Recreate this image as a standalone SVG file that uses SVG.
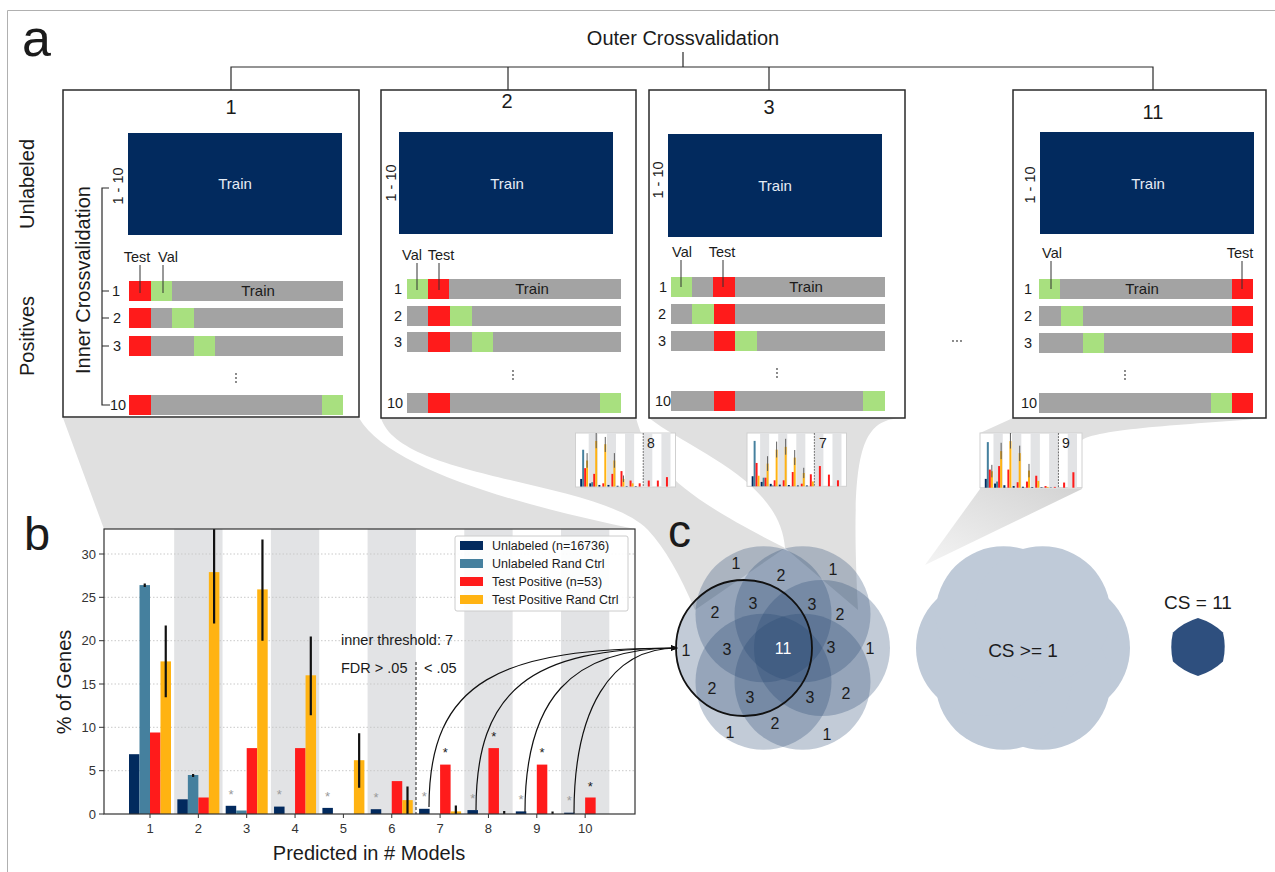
<svg xmlns="http://www.w3.org/2000/svg" width="1275" height="872" viewBox="0 0 1275 872">
<defs>
<style>
text{font-family:"Liberation Sans",Arial,Helvetica,sans-serif;fill:#1b1b1b}
.nv{fill:#022a5e}.tl{fill:#45809e}.rd{fill:#ff1b1b}.or{fill:#ffb312}.gn{fill:#a8e07f}.gy{fill:#a3a3a3}
.band{fill:#e2e3e5}
.fun{fill:#e0e0e0}
.box{fill:#fff;stroke:#2a2a2a;stroke-width:1.5}
.trn{fill:#022a5e}
.wt{fill:#e6ecf5;font-size:15px;text-anchor:middle}
.lbl{font-size:14.5px;text-anchor:middle}
.ttl{font-size:20px;text-anchor:middle}
.ln{stroke:#2a2a2a;stroke-width:1.2;fill:none}
.lead{stroke:#333;stroke-width:1}
.err{stroke:#111;stroke-width:2.2}
.terr{stroke:#555;stroke-width:5}
.tdash{stroke:#444;stroke-width:4;stroke-dasharray:10 6}
.grid{stroke:#c9c9c9;stroke-width:1;stroke-dasharray:1.5 2}
.vc{fill:#23436f;fill-opacity:.28}
.blob{fill:#bfcad8}
.vt{font-size:16px;text-anchor:middle}
.ast{font-size:13px;text-anchor:middle}
.tick{font-size:13px;fill:#333}
.dot{fill:#555}
.conn{fill:none;stroke:#111;stroke-width:1.2}
</style>
<g id="bands">
<rect class="band" x="174.18" y="529" width="48.35" height="285"/>
<rect class="band" x="270.88" y="529" width="48.35" height="285"/>
<rect class="band" x="367.58" y="529" width="48.35" height="285"/>
<rect class="band" x="464.28" y="529" width="48.35" height="285"/>
<rect class="band" x="560.98" y="529" width="48.35" height="285"/>
</g>
<marker id="ah" viewBox="0 0 10 10" refX="9" refY="5" markerWidth="6" markerHeight="6" orient="auto"><path d="M0,1L10,5L0,9z" fill="#111"/></marker>
<linearGradient id="fade" x1="1" y1="0" x2="0" y2="1"><stop offset="0" stop-color="#d3d3d3"/><stop offset="1" stop-color="#f4f4f4"/></linearGradient>
</defs>
<rect width="1275" height="872" fill="#fff"/>
<path d="M7.5,872V10.5H1275" fill="none" stroke="#b0b0b0" stroke-width="1"/>

<g id="funnels">
<path class="fun" d="M63,418L359,418C390,470 520,505 635,529L104,529Z"/>
<path class="fun" d="M381,418L636,418C650,470 690,500 785,548L695,610C680,575 665,548 648,530C600,480 400,480 381,418Z"/>
<path class="fun" d="M649,418L905,418C860,418 850,450 858,610L785,548C780,480 690,450 649,418Z"/>
<path class="fun" d="M1013,418L1266,418C1200,424 1100,428 1082,440L1082,489L980,489L980,433Z"/>
<path fill="url(#fade)" d="M980,489L1082,489L925,565Z"/>
</g>

<text x="22" y="56" font-size="52">a</text>
<text x="683" y="45" font-size="20" text-anchor="middle">Outer Crossvalidation</text>
<g id="outer-bracket">
<path class="ln" d="M683,52V67M231,90V67H1153V90M508,67V90M769,67V90"/>
</g>
<text transform="translate(34,184) rotate(-90)" font-size="20" text-anchor="middle">Unlabeled</text>
<text transform="translate(34,336) rotate(-90)" font-size="20" text-anchor="middle">Positives</text>

<g id="fold1">
<rect class="box" x="63" y="90" width="296" height="327"/>
<text class="ttl" x="231" y="114">1</text>
<rect class="trn" x="128" y="133" width="214" height="102"/>
<text class="wt" x="235" y="189">Train</text>
<text transform="translate(123,186) rotate(-90)" font-size="14.5" text-anchor="middle">1 - 10</text>
<path class="ln" d="M109,188H102V405H110M102,291H109M102,318H109M102,346H109"/>
<text transform="translate(90,280) rotate(-90)" font-size="20" text-anchor="middle">Inner Crossvalidation</text>
<rect class="gy" x="129" y="281" width="214" height="20"/>
<rect class="rd" x="129" y="281" width="22" height="20"/>
<rect class="gn" x="151" y="281" width="21" height="20"/>
<rect class="gy" x="129" y="308" width="214" height="20"/>
<rect class="rd" x="129" y="308" width="22" height="20"/>
<rect class="gn" x="172" y="308" width="22" height="20"/>
<rect class="gy" x="129" y="336" width="214" height="20"/>
<rect class="rd" x="129" y="336" width="22" height="20"/>
<rect class="gn" x="194" y="336" width="21" height="20"/>
<rect class="gy" x="129" y="395" width="214" height="20"/>
<rect class="rd" x="129" y="395" width="22" height="20"/>
<rect class="gn" x="322" y="395" width="21" height="20"/>
<text x="258" y="296" font-size="15" text-anchor="middle">Train</text>
<text class="lbl" x="137" y="262">Test</text>
<text class="lbl" x="168" y="262">Val</text>
<path class="lead" d="M140,265V293M163,265V293"/>
<text class="lbl" x="116" y="296">1</text>
<text class="lbl" x="117" y="323">2</text>
<text class="lbl" x="117" y="351">3</text>
<text class="lbl" x="118" y="410">10</text>
<circle class="dot" cx="236" cy="374" r="0.9"/><circle class="dot" cx="236" cy="378" r="0.9"/><circle class="dot" cx="236" cy="382" r="0.9"/>
</g>

<g id="fold2">
<rect class="box" x="381" y="90" width="255" height="328"/>
<text class="ttl" x="507" y="108">2</text>
<rect class="trn" x="399" y="132" width="214" height="102"/>
<text class="wt" x="507" y="189">Train</text>
<text transform="translate(396,183) rotate(-90)" font-size="14.5" text-anchor="middle">1 - 10</text>
<rect class="gy" x="407" y="279" width="214" height="20"/>
<rect class="gn" x="407" y="279" width="21" height="20"/>
<rect class="rd" x="428" y="279" width="21" height="20"/>
<rect class="gy" x="407" y="306" width="214" height="20"/>
<rect class="rd" x="428" y="306" width="22" height="20"/>
<rect class="gn" x="450" y="306" width="22" height="20"/>
<rect class="gy" x="407" y="332" width="214" height="20"/>
<rect class="rd" x="428" y="332" width="22" height="20"/>
<rect class="gn" x="472" y="332" width="21" height="20"/>
<rect class="gy" x="407" y="393" width="214" height="20"/>
<rect class="rd" x="428" y="393" width="22" height="20"/>
<rect class="gn" x="600" y="393" width="21" height="20"/>
<text x="532" y="294" font-size="15" text-anchor="middle">Train</text>
<text class="lbl" x="412" y="260">Val</text>
<text class="lbl" x="441" y="260">Test</text>
<path class="lead" d="M417,263V290M439,263V290"/>
<text class="lbl" x="398" y="294">1</text>
<text class="lbl" x="398" y="321">2</text>
<text class="lbl" x="398" y="347">3</text>
<text class="lbl" x="395" y="408">10</text>
<circle class="dot" cx="513" cy="371" r="0.9"/><circle class="dot" cx="513" cy="375" r="0.9"/><circle class="dot" cx="513" cy="379" r="0.9"/>
</g>

<g id="fold3">
<rect class="box" x="649" y="90" width="256" height="328"/>
<text class="ttl" x="769" y="114">3</text>
<rect class="trn" x="668" y="134" width="214" height="103"/>
<text class="wt" x="775" y="191">Train</text>
<text transform="translate(663,180) rotate(-90)" font-size="14.5" text-anchor="middle">1 - 10</text>
<rect class="gy" x="671" y="277" width="214" height="20"/>
<rect class="gn" x="671" y="277" width="21" height="20"/>
<rect class="rd" x="713" y="277" width="22" height="20"/>
<rect class="gy" x="671" y="304" width="214" height="20"/>
<rect class="gn" x="692" y="304" width="22" height="20"/>
<rect class="rd" x="714" y="304" width="21" height="20"/>
<rect class="gy" x="671" y="331" width="214" height="20"/>
<rect class="rd" x="714" y="331" width="21" height="20"/>
<rect class="gn" x="735" y="331" width="22" height="20"/>
<rect class="gy" x="671" y="391" width="214" height="20"/>
<rect class="rd" x="714" y="391" width="21" height="20"/>
<rect class="gn" x="863" y="391" width="22" height="20"/>
<text x="806" y="292" font-size="15" text-anchor="middle">Train</text>
<text class="lbl" x="682" y="257">Val</text>
<text class="lbl" x="722" y="257">Test</text>
<path class="lead" d="M681,260V287M723,260V287"/>
<text class="lbl" x="663" y="292">1</text>
<text class="lbl" x="662" y="319">2</text>
<text class="lbl" x="662" y="346">3</text>
<text class="lbl" x="663" y="406">10</text>
<circle class="dot" cx="777" cy="369" r="0.9"/><circle class="dot" cx="777" cy="373" r="0.9"/><circle class="dot" cx="777" cy="377" r="0.9"/>
</g>

<g id="ellipsis">
<circle class="dot" cx="953" cy="341" r="0.9"/><circle class="dot" cx="957" cy="341" r="0.9"/><circle class="dot" cx="961" cy="341" r="0.9"/>
</g>

<g id="fold11">
<rect class="box" x="1013" y="90" width="253" height="328"/>
<text class="ttl" x="1153" y="119">11</text>
<rect class="trn" x="1040" y="132" width="214" height="102"/>
<text class="wt" x="1148" y="189">Train</text>
<text transform="translate(1035,185) rotate(-90)" font-size="14.5" text-anchor="middle">1 - 10</text>
<rect class="gy" x="1039" y="279" width="214" height="20"/>
<rect class="gn" x="1039" y="279" width="21" height="20"/>
<rect class="rd" x="1232" y="279" width="21" height="20"/>
<rect class="gy" x="1039" y="306" width="214" height="20"/>
<rect class="gn" x="1061" y="306" width="22" height="20"/>
<rect class="rd" x="1232" y="306" width="21" height="20"/>
<rect class="gy" x="1039" y="333" width="214" height="20"/>
<rect class="gn" x="1083" y="333" width="21" height="20"/>
<rect class="rd" x="1232" y="333" width="21" height="20"/>
<rect class="gy" x="1039" y="393" width="214" height="20"/>
<rect class="gn" x="1211" y="393" width="21" height="20"/>
<rect class="rd" x="1232" y="393" width="21" height="20"/>
<text x="1142" y="294" font-size="15" text-anchor="middle">Train</text>
<text class="lbl" x="1052" y="258">Val</text>
<text class="lbl" x="1240" y="258">Test</text>
<path class="lead" d="M1051,261V289M1242,261V289"/>
<text class="lbl" x="1028" y="294">1</text>
<text class="lbl" x="1028" y="321">2</text>
<text class="lbl" x="1028" y="348">3</text>
<text class="lbl" x="1029" y="408">10</text>
<circle class="dot" cx="1125" cy="371" r="0.9"/><circle class="dot" cx="1125" cy="375" r="0.9"/><circle class="dot" cx="1125" cy="379" r="0.9"/>
</g>

<g id="thumb8">
<rect x="575.5" y="433" width="100" height="54" fill="#fff" stroke="#d0d0d0"/>
<g transform="translate(575.5,433) scale(0.188) translate(-104,-529)">
<use href="#bands"/>
<rect class="nv" x="129" y="773.3" width="10.5" height="40.7"/><rect class="nv" x="177.35" y="796.7" width="10.5" height="17.3"/><rect class="nv" x="225.7" y="805.3" width="10.5" height="8.7"/><rect class="nv" x="274.05" y="805.3" width="10.5" height="8.7"/><rect class="nv" x="322.4" y="809.7" width="10.5" height="4.3"/><rect class="nv" x="370.75" y="811.4" width="10.5" height="2.6"/><rect class="nv" x="419.1" y="811.4" width="10.5" height="2.6"/>
<rect class="tl" x="139.5" y="618.1" width="10.5" height="195.9"/><rect class="tl" x="187.85" y="790.6" width="10.5" height="23.4"/>
<rect class="rd" x="150" y="716" width="10.5" height="98"/><rect class="rd" x="198.35" y="746.4" width="10.5" height="67.6"/><rect class="rd" x="246.7" y="796.7" width="10.5" height="17.3"/><rect class="rd" x="295.05" y="746.4" width="10.5" height="67.6"/><rect class="rd" x="343.4" y="731.6" width="10.5" height="82.4"/><rect class="rd" x="391.75" y="781.9" width="10.5" height="32.1"/><rect class="rd" x="440.1" y="796.7" width="10.5" height="17.3"/><rect class="rd" x="488.45" y="781.9" width="10.5" height="32.1"/><rect class="rd" x="536.8" y="781.9" width="10.5" height="32.1"/><rect class="rd" x="585.15" y="763.7" width="10.5" height="50.3"/>
<rect class="or" x="160.5" y="675.3" width="10.5" height="138.7"/><rect class="or" x="208.85" y="571.2" width="10.5" height="242.8"/><rect class="or" x="257.2" y="588.6" width="10.5" height="225.4"/><rect class="or" x="305.55" y="675.3" width="10.5" height="138.7"/><rect class="or" x="353.9" y="773.3" width="10.5" height="40.7"/><rect class="or" x="402.25" y="796.7" width="10.5" height="17.3"/>
<path class="terr" d="M165.75,636V714M214.1,529V610M262.45,550V630M310.8,636V714M359.15,755V790"/>
<path class="tdash" d="M464.28,529V814"/>
</g>
<text x="651" y="448" font-size="14" text-anchor="middle">8</text>
</g>

<g id="thumb7">
<rect x="747" y="433" width="99.5" height="53.3" fill="#fff" stroke="#d0d0d0"/>
<g transform="translate(747,433) scale(0.187) translate(-104,-529)">
<use href="#bands"/>
<rect class="nv" x="129" y="760.2" width="10.5" height="53.8"/><rect class="nv" x="177.35" y="790.6" width="10.5" height="23.4"/><rect class="nv" x="225.7" y="801" width="10.5" height="13"/><rect class="nv" x="274.05" y="805.3" width="10.5" height="8.7"/><rect class="nv" x="322.4" y="807.1" width="10.5" height="6.9"/><rect class="nv" x="370.75" y="809.7" width="10.5" height="4.3"/><rect class="nv" x="419.1" y="809.7" width="10.5" height="4.3"/>
<rect class="tl" x="139.5" y="571.2" width="10.5" height="242.8"/><rect class="tl" x="187.85" y="768" width="10.5" height="46"/><rect class="tl" x="236.2" y="809.7" width="10.5" height="4.3"/>
<rect class="rd" x="150" y="689.2" width="10.5" height="124.8"/><rect class="rd" x="198.35" y="768" width="10.5" height="46"/><rect class="rd" x="246.7" y="781.9" width="10.5" height="32.1"/><rect class="rd" x="295.05" y="781.9" width="10.5" height="32.1"/><rect class="rd" x="343.4" y="737.7" width="10.5" height="76.3"/><rect class="rd" x="391.75" y="800.1" width="10.5" height="13.9"/><rect class="rd" x="440.1" y="749.8" width="10.5" height="64.2"/><rect class="rd" x="488.45" y="705.6" width="10.5" height="108.4"/><rect class="rd" x="536.8" y="751.6" width="10.5" height="62.4"/><rect class="rd" x="585.15" y="781.9" width="10.5" height="32.1"/>
<rect class="or" x="160.5" y="757.6" width="10.5" height="56.4"/><rect class="or" x="208.85" y="692.6" width="10.5" height="121.4"/><rect class="or" x="257.2" y="618.1" width="10.5" height="195.9"/><rect class="or" x="305.55" y="603.3" width="10.5" height="210.7"/><rect class="or" x="353.9" y="660.5" width="10.5" height="153.5"/><rect class="or" x="402.25" y="742.9" width="10.5" height="71.1"/><rect class="or" x="450.6" y="788" width="10.5" height="26"/>
<path class="terr" d="M214.1,653V732M262.45,575V660M310.8,560V645M359.15,620V700M407.5,715V770"/>
<path class="tdash" d="M464.28,529V814"/>
</g>
<text x="823" y="448" font-size="14" text-anchor="middle">7</text>
</g>

<g id="thumb9">
<rect x="980" y="433" width="102" height="54.7" fill="#fff" stroke="#d0d0d0"/>
<g transform="translate(980,433) scale(0.192) translate(-104,-529)">
<use href="#bands"/>
<rect class="nv" x="129" y="768" width="10.5" height="46"/><rect class="nv" x="177.35" y="792.3" width="10.5" height="21.7"/><rect class="nv" x="225.7" y="801" width="10.5" height="13"/><rect class="nv" x="274.05" y="805.3" width="10.5" height="8.7"/><rect class="nv" x="322.4" y="808.8" width="10.5" height="5.2"/><rect class="nv" x="370.75" y="810.5" width="10.5" height="3.5"/><rect class="nv" x="419.1" y="811.4" width="10.5" height="2.6"/><rect class="nv" x="467.45" y="812.3" width="10.5" height="1.7"/>
<rect class="tl" x="139.5" y="576.4" width="10.5" height="237.6"/><rect class="tl" x="187.85" y="781.9" width="10.5" height="32.1"/>
<rect class="rd" x="150" y="719.5" width="10.5" height="94.5"/><rect class="rd" x="198.35" y="701.3" width="10.5" height="112.7"/><rect class="rd" x="246.7" y="719.5" width="10.5" height="94.5"/><rect class="rd" x="295.05" y="785.4" width="10.5" height="28.6"/><rect class="rd" x="343.4" y="781.9" width="10.5" height="32.1"/><rect class="rd" x="391.75" y="751.6" width="10.5" height="62.4"/><rect class="rd" x="440.1" y="805.3" width="10.5" height="8.7"/><rect class="rd" x="488.45" y="809.7" width="10.5" height="4.3"/><rect class="rd" x="536.8" y="787.1" width="10.5" height="26.9"/><rect class="rd" x="585.15" y="733.4" width="10.5" height="80.6"/>
<rect class="or" x="160.5" y="728.2" width="10.5" height="85.8"/><rect class="or" x="208.85" y="623.3" width="10.5" height="190.7"/><rect class="or" x="257.2" y="571.2" width="10.5" height="242.8"/><rect class="or" x="305.55" y="633.7" width="10.5" height="180.3"/><rect class="or" x="353.9" y="724.7" width="10.5" height="89.3"/><rect class="or" x="402.25" y="778.5" width="10.5" height="35.5"/><rect class="or" x="450.6" y="809.7" width="10.5" height="4.3"/>
<path class="terr" d="M165.75,695V760M214.1,580V665M262.45,529V610M310.8,595V675M359.15,690V760"/>
<path class="tdash" d="M512.6,529V814"/>
</g>
<text x="1066" y="448" font-size="14" text-anchor="middle">9</text>
</g>

<text x="24" y="550" font-size="47">b</text>
<g id="chart-b">
<rect x="104" y="529" width="531" height="285" fill="#fff"/>
<use href="#bands"/>
<path class="grid" d="M104,770.7H635M104,727.3H635M104,684H635M104,640.7H635M104,597.3H635M104,554H635"/>
<rect class="nv" x="129" y="754.2" width="10.5" height="59.8"/><rect class="nv" x="177.35" y="799.3" width="10.5" height="14.7"/><rect class="nv" x="225.7" y="805.8" width="10.5" height="8.2"/><rect class="nv" x="274.05" y="806.6" width="10.5" height="7.4"/><rect class="nv" x="322.4" y="807.9" width="10.5" height="6.1"/><rect class="nv" x="370.75" y="809.2" width="10.5" height="4.8"/><rect class="nv" x="419.1" y="808.8" width="10.5" height="5.2"/><rect class="nv" x="467.45" y="810.1" width="10.5" height="3.9"/><rect class="nv" x="515.8" y="811.4" width="10.5" height="2.6"/><rect class="nv" x="564.15" y="812.7" width="10.5" height="1.3"/>
<rect class="tl" x="139.5" y="585.1" width="10.5" height="228.9"/><rect class="tl" x="187.85" y="775" width="10.5" height="39"/><rect class="tl" x="236.2" y="810.5" width="10.5" height="3.5"/>
<rect class="rd" x="150" y="732.5" width="10.5" height="81.5"/><rect class="rd" x="198.35" y="797.5" width="10.5" height="16.5"/><rect class="rd" x="246.7" y="748.1" width="10.5" height="65.9"/><rect class="rd" x="295.05" y="748.1" width="10.5" height="65.9"/><rect class="rd" x="391.75" y="781.1" width="10.5" height="32.9"/><rect class="rd" x="440.1" y="764.6" width="10.5" height="49.4"/><rect class="rd" x="488.45" y="748.1" width="10.5" height="65.9"/><rect class="rd" x="536.8" y="764.6" width="10.5" height="49.4"/><rect class="rd" x="585.15" y="797.5" width="10.5" height="16.5"/>
<rect class="or" x="160.5" y="661.4" width="10.5" height="152.6"/><rect class="or" x="208.85" y="572.1" width="10.5" height="241.9"/><rect class="or" x="257.2" y="589.4" width="10.5" height="224.6"/><rect class="or" x="305.55" y="675.3" width="10.5" height="138.7"/><rect class="or" x="353.9" y="760.2" width="10.5" height="53.8"/><rect class="or" x="402.25" y="800.1" width="10.5" height="13.9"/><rect class="or" x="450.6" y="811.4" width="10.5" height="2.6"/>
<path class="err" d="M144.75,583.5V587M193.1,774V777M165.75,625.4V697.3M214.1,529V623.6M262.45,539.5V640.7M310.8,636.6V715.2M359.15,733.3V787.7M407.5,786.5V814M455.85,805.5V814M504.2,811V814M552.55,811.5V814"/>
<g>
<text class="ast" x="230.95" y="799" style="fill:#9a9a9a">*</text><text class="ast" x="279.3" y="799" style="fill:#9a9a9a">*</text><text class="ast" x="327.65" y="801" style="fill:#9a9a9a">*</text><text class="ast" x="376" y="802" style="fill:#9a9a9a">*</text><text class="ast" x="424.35" y="801" style="fill:#9a9a9a">*</text><text class="ast" x="472.7" y="803" style="fill:#9a9a9a">*</text><text class="ast" x="521.05" y="804" style="fill:#9a9a9a">*</text><text class="ast" x="569.4" y="805" style="fill:#9a9a9a">*</text>
</g>
<text class="ast" x="445.35" y="757">*</text><text class="ast" x="493.7" y="741">*</text><text class="ast" x="542.05" y="757">*</text><text class="ast" x="590.4" y="791">*</text>
<path d="M416,662V814" stroke="#444" stroke-width="1.2" stroke-dasharray="3 2"/>
<text x="341" y="645" font-size="14.5">inner threshold: 7</text>
<text x="341" y="673" font-size="14.5">FDR &gt; .05</text>
<text x="424" y="673" font-size="14.5">&lt; .05</text>
<g id="legend">
<rect x="455" y="536" width="173" height="75" rx="2" fill="#fff" fill-opacity=".9" stroke="#cccccc"/>
<rect class="nv" x="460" y="541" width="23" height="9"/>
<rect class="tl" x="460" y="559" width="23" height="9"/>
<rect class="rd" x="460" y="577" width="23" height="9"/>
<rect class="or" x="460" y="595" width="23" height="9"/>
<text x="492" y="550" font-size="12.5">Unlabeled (n=16736)</text>
<text x="492" y="568" font-size="12.5">Unlabeled Rand Ctrl</text>
<text x="492" y="586" font-size="12.5">Test Positive (n=53)</text>
<text x="492" y="604" font-size="12.5">Test Positive Rand Ctrl</text>
</g>
<rect x="104" y="529" width="531" height="285" fill="none" stroke="#333" stroke-width="1.2"/>
<path d="M99,814H104M99,770.7H104M99,727.3H104M99,684H104M99,640.7H104M99,597.3H104M99,554H104M150,814V818M198.35,814V818M246.7,814V818M295.05,814V818M343.4,814V818M391.75,814V818M440.1,814V818M488.45,814V818M536.8,814V818M585.15,814V818" stroke="#333" stroke-width="1"/>
<g text-anchor="end">
<text class="tick" x="96" y="818.5">0</text><text class="tick" x="96" y="775.2">5</text><text class="tick" x="96" y="731.8">10</text><text class="tick" x="96" y="688.5">15</text><text class="tick" x="96" y="645.2">20</text><text class="tick" x="96" y="601.8">25</text><text class="tick" x="96" y="558.5">30</text>
</g>
<g text-anchor="middle">
<text class="tick" x="150" y="833">1</text><text class="tick" x="198.35" y="833">2</text><text class="tick" x="246.7" y="833">3</text><text class="tick" x="295.05" y="833">4</text><text class="tick" x="343.4" y="833">5</text><text class="tick" x="391.75" y="833">6</text><text class="tick" x="440.1" y="833">7</text><text class="tick" x="488.45" y="833">8</text><text class="tick" x="536.8" y="833">9</text><text class="tick" x="585.15" y="833">10</text>
</g>
<text transform="translate(71,682) rotate(-90)" font-size="20" text-anchor="middle">% of Genes</text>
<text x="369" y="860" font-size="20" text-anchor="middle">Predicted in # Models</text>
</g>

<text x="668" y="547" font-size="46">c</text>
<g id="venn">
<circle class="vc" cx="822" cy="648" r="68"/>
<circle class="vc" cx="802.5" cy="681.8" r="68"/>
<circle class="vc" cx="763.5" cy="681.8" r="68"/>
<circle class="vc" cx="744" cy="648" r="68"/>
<circle class="vc" cx="763.5" cy="614.2" r="68"/>
<circle class="vc" cx="802.5" cy="614.2" r="68"/>
<circle cx="744" cy="648" r="68" fill="none" stroke="#111" stroke-width="1.8"/>
<text class="vt" x="736" y="569">1</text>
<text class="vt" x="781" y="581">2</text>
<text class="vt" x="833" y="575">1</text>
<text class="vt" x="715" y="618">2</text>
<text class="vt" x="753" y="609">3</text>
<text class="vt" x="812" y="610">3</text>
<text class="vt" x="840" y="620">2</text>
<text class="vt" x="686" y="656">1</text>
<text class="vt" x="727" y="655">3</text>
<text class="vt" x="783" y="654" style="fill:#fff">11</text>
<text class="vt" x="831" y="653">3</text>
<text class="vt" x="870" y="654">1</text>
<text class="vt" x="712" y="694">2</text>
<text class="vt" x="750" y="703">3</text>
<text class="vt" x="810" y="703">3</text>
<text class="vt" x="846" y="699">2</text>
<text class="vt" x="775" y="729">2</text>
<text class="vt" x="730" y="738">1</text>
<text class="vt" x="827" y="740">1</text>
</g>

<g id="cs-union">
<circle class="blob" cx="1062" cy="648" r="68"/>
<circle class="blob" cx="1042.5" cy="681.8" r="68"/>
<circle class="blob" cx="1003.5" cy="681.8" r="68"/>
<circle class="blob" cx="984" cy="648" r="68"/>
<circle class="blob" cx="1003.5" cy="614.2" r="68"/>
<circle class="blob" cx="1042.5" cy="614.2" r="68"/>
<text x="1023" y="657" font-size="19" text-anchor="middle">CS &gt;= 1</text>
</g>

<g id="cs-intersection">
<text x="1198" y="609" font-size="19" text-anchor="middle">CS = 11</text>
<path d="M1198,618.1A62.6,62.6 0 0 1 1223,632.55A62.6,62.6 0 0 1 1223,661.45A62.6,62.6 0 0 1 1198,675.9A62.6,62.6 0 0 1 1172.97,661.45A62.6,62.6 0 0 1 1172.97,632.55A62.6,62.6 0 0 1 1198,618.1Z" fill="#2e4f7e"/>
</g>

<g id="connectors">
<path class="conn" d="M429,807C429,680 500,648 677,648" marker-end="url(#ah)"/>
<path class="conn" d="M476,810C476,690 530,648 677,648" marker-end="url(#ah)"/>
<path class="conn" d="M525,812C525,700 570,648 677,648" marker-end="url(#ah)"/>
<path class="conn" d="M574,813C574,710 610,648 677,648" marker-end="url(#ah)"/>
</g>
</svg>
